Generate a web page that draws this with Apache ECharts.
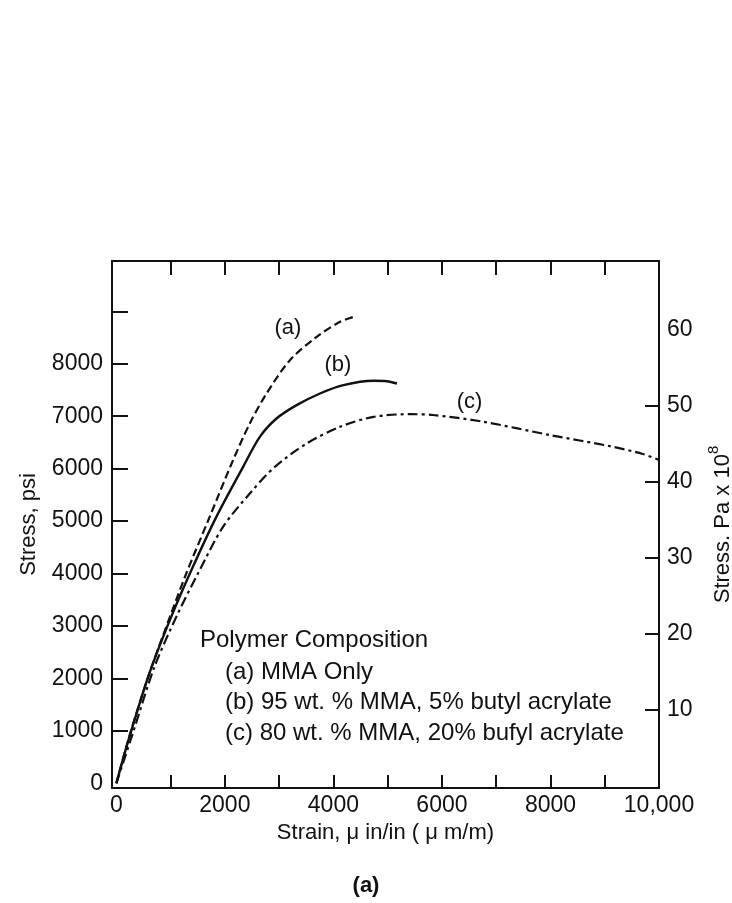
<!DOCTYPE html>
<html>
<head>
<meta charset="utf-8">
<script src="https://cdn.jsdelivr.net/npm/echarts@6/dist/echarts.min.js"></script>
<style>
html,body{margin:0;padding:0;background:#fff;}
#c{width:732px;height:903px;}
</style>
</head>
<body>
<div id="c"></div>
<script>
// ---- data ----
const strainA = [0, 240, 610, 1011, 1288, 1720, 2151, 2459, 2767, 3199, 3692, 4123, 4420];
const stressA = [0, 900, 2100, 3238, 4000, 5081, 6162, 6861, 7433, 8069, 8514, 8800, 8910];

const strainB = [0, 240, 610, 1011, 1411, 1843, 2336, 2644, 2952, 3322, 3753, 4185, 4739, 4986, 5171];
const stressB = [0, 880, 2100, 3174, 4128, 5081, 6035, 6607, 6956, 7211, 7433, 7592, 7675, 7668, 7624];

const strainC = [0, 302, 703, 1134, 1504, 1966, 2459, 2921, 3507, 4123, 4739, 5417, 5834, 6755, 7983, 9090, 9702, 10000];
const stressC = [0, 949, 2221, 3238, 4000, 4890, 5526, 6035, 6480, 6798, 6988, 7039, 7023, 6896, 6642, 6430, 6280, 6165];

const curveLabels = ['(a)', '(b)', '(c)'];
const curveLabelStrain = [3163, 4084, 6509];
const curveLabelStress = [8677, 7977, 7277];

const xTickValues = [1000, 2000, 3000, 4000, 5000, 6000, 7000, 8000, 9000];
const xLabelValues = [0, 2000, 4000, 6000, 8000, 10000];
const yTickValues = [1000, 2000, 3000, 4000, 5000, 6000, 7000, 8000, 9000];
const yLabelValues = [0, 1000, 2000, 3000, 4000, 5000, 6000, 7000, 8000];
const paTickValues = [10, 20, 30, 40, 50];
const paLabelValues = [10, 20, 30, 40, 50, 60];

const legendTitle = 'Polymer Composition';
const legendLines = ['(a) MMA Only', '(b) 95 wt. % MMA, 5% butyl acrylate', '(c) 80 wt. % MMA, 20% bufyl acrylate'];
const panelLabel = '(a)';

// ---- chart ----
const FONT = 'Liberation Sans, Arial, sans-serif';
const INK = '#111';
const zip = (xs, ys) => xs.map((x, i) => [x, ys[i]]);

const chart = echarts.init(document.getElementById('c'), null, {renderer: 'canvas'});

const option = {
  backgroundColor: '#ffffff',
  animation: false,
  grid: {left: 112, right: 73, top: 261, bottom: 115, containLabel: false, outerBoundsMode: 'none'},
  xAxis: [
    {
      type: 'value', position: 'bottom', min: -80, max: 10000,
      name: 'Strain, \u03bc in/in ( \u03bc m/m)', nameLocation: 'middle', nameGap: 28,
      nameTextStyle: {fontFamily: FONT, fontSize: 22, color: INK},
      axisLine: {show: true, onZero: false, lineStyle: {color: INK, width: 2}},
      axisTick: {show: true, inside: true, length: 13, lineStyle: {color: INK, width: 2}, customValues: xTickValues},
      axisLabel: {show: true, margin: 6, fontFamily: FONT, fontSize: 23, color: INK, customValues: xLabelValues,
        formatter: v => v === 10000 ? '10,000' : String(v)},
      splitLine: {show: false}
    },
    {
      type: 'value', position: 'top', min: -80, max: 10000,
      axisLine: {show: true, onZero: false, lineStyle: {color: INK, width: 2}},
      axisTick: {show: true, inside: true, length: 14, lineStyle: {color: INK, width: 2}, customValues: xTickValues},
      axisLabel: {show: false},
      splitLine: {show: false}
    }
  ],
  yAxis: [
    {
      type: 'value', position: 'left', min: -90, max: 9960,
      name: 'Stress, psi', nameLocation: 'middle', nameGap: 72, nameRotate: 90,
      nameTextStyle: {fontFamily: FONT, fontSize: 22, color: INK},
      axisLine: {show: true, onZero: false, lineStyle: {color: INK, width: 2}},
      axisTick: {show: true, inside: true, length: 16, lineStyle: {color: INK, width: 2}, customValues: yTickValues},
      axisLabel: {show: true, margin: 9, fontFamily: FONT, fontSize: 23, color: INK, customValues: yLabelValues,
        formatter: v => String(v)},
      splitLine: {show: false}
    },
    {
      type: 'value', position: 'right', min: -0.35, max: 69,
      name: '{t|Stress. Pa x 10}{s|8}', nameLocation: 'middle', nameGap: 47, nameRotate: 90,
      nameTextStyle: {fontFamily: FONT, fontSize: 22, color: INK,
        rich: {t: {fontFamily: FONT, fontSize: 22, color: INK, lineHeight: 28, verticalAlign: 'bottom'},
               s: {fontFamily: FONT, fontSize: 15, color: INK, verticalAlign: 'top', lineHeight: 28}}},
      axisLine: {show: true, onZero: false, lineStyle: {color: INK, width: 2}},
      axisTick: {show: true, inside: true, length: 14, lineStyle: {color: INK, width: 2}, customValues: paTickValues},
      axisLabel: {show: true, margin: 8, fontFamily: FONT, fontSize: 23, color: INK, customValues: paLabelValues,
        formatter: v => String(v)},
      splitLine: {show: false}
    }
  ],
  series: [
    {
      name: 'a', type: 'line', xAxisIndex: 0, yAxisIndex: 0, data: zip(strainA, stressA),
      showSymbol: false, smooth: 0.3, lineStyle: {color: INK, width: 2.2, type: [8, 4]}
    },
    {
      name: 'b', type: 'line', xAxisIndex: 0, yAxisIndex: 0, data: zip(strainB, stressB),
      showSymbol: false, smooth: 0.3, lineStyle: {color: INK, width: 2.4, type: 'solid'}
    },
    {
      name: 'c', type: 'line', xAxisIndex: 0, yAxisIndex: 0, data: zip(strainC, stressC),
      showSymbol: false, smooth: 0.3, lineStyle: {color: INK, width: 2.2, type: [10, 4, 3, 4]}
    },
    {
      name: 'labels', type: 'scatter', xAxisIndex: 0, yAxisIndex: 0,
      data: curveLabels.map((t, i) => ({value: [curveLabelStrain[i], curveLabelStress[i]], name: t})),
      symbol: 'circle', symbolSize: 0,
      label: {show: true, position: [0, 0], align: 'center', verticalAlign: 'middle',
        formatter: p => p.name, fontFamily: FONT, fontSize: 22, color: INK, opacity: 1},
      emphasis: {disabled: true},
      silent: true
    }
  ],
  graphic: [
    {type: 'text', left: 200, top: 641 - 13, style: {text: legendTitle, font: '24px ' + FONT, fill: INK}},
    ...legendLines.map((t, i) => ({type: 'text', left: 225, top: 673 + i * 30.5 - 13,
      style: {text: t, font: '24px ' + FONT, fill: INK}})),
    {type: 'text', left: 'center', top: 875, style: {text: panelLabel, font: 'bold 22px ' + FONT, fill: INK}}
  ]
};
chart.setOption(option);
</script>
</body>
</html>
